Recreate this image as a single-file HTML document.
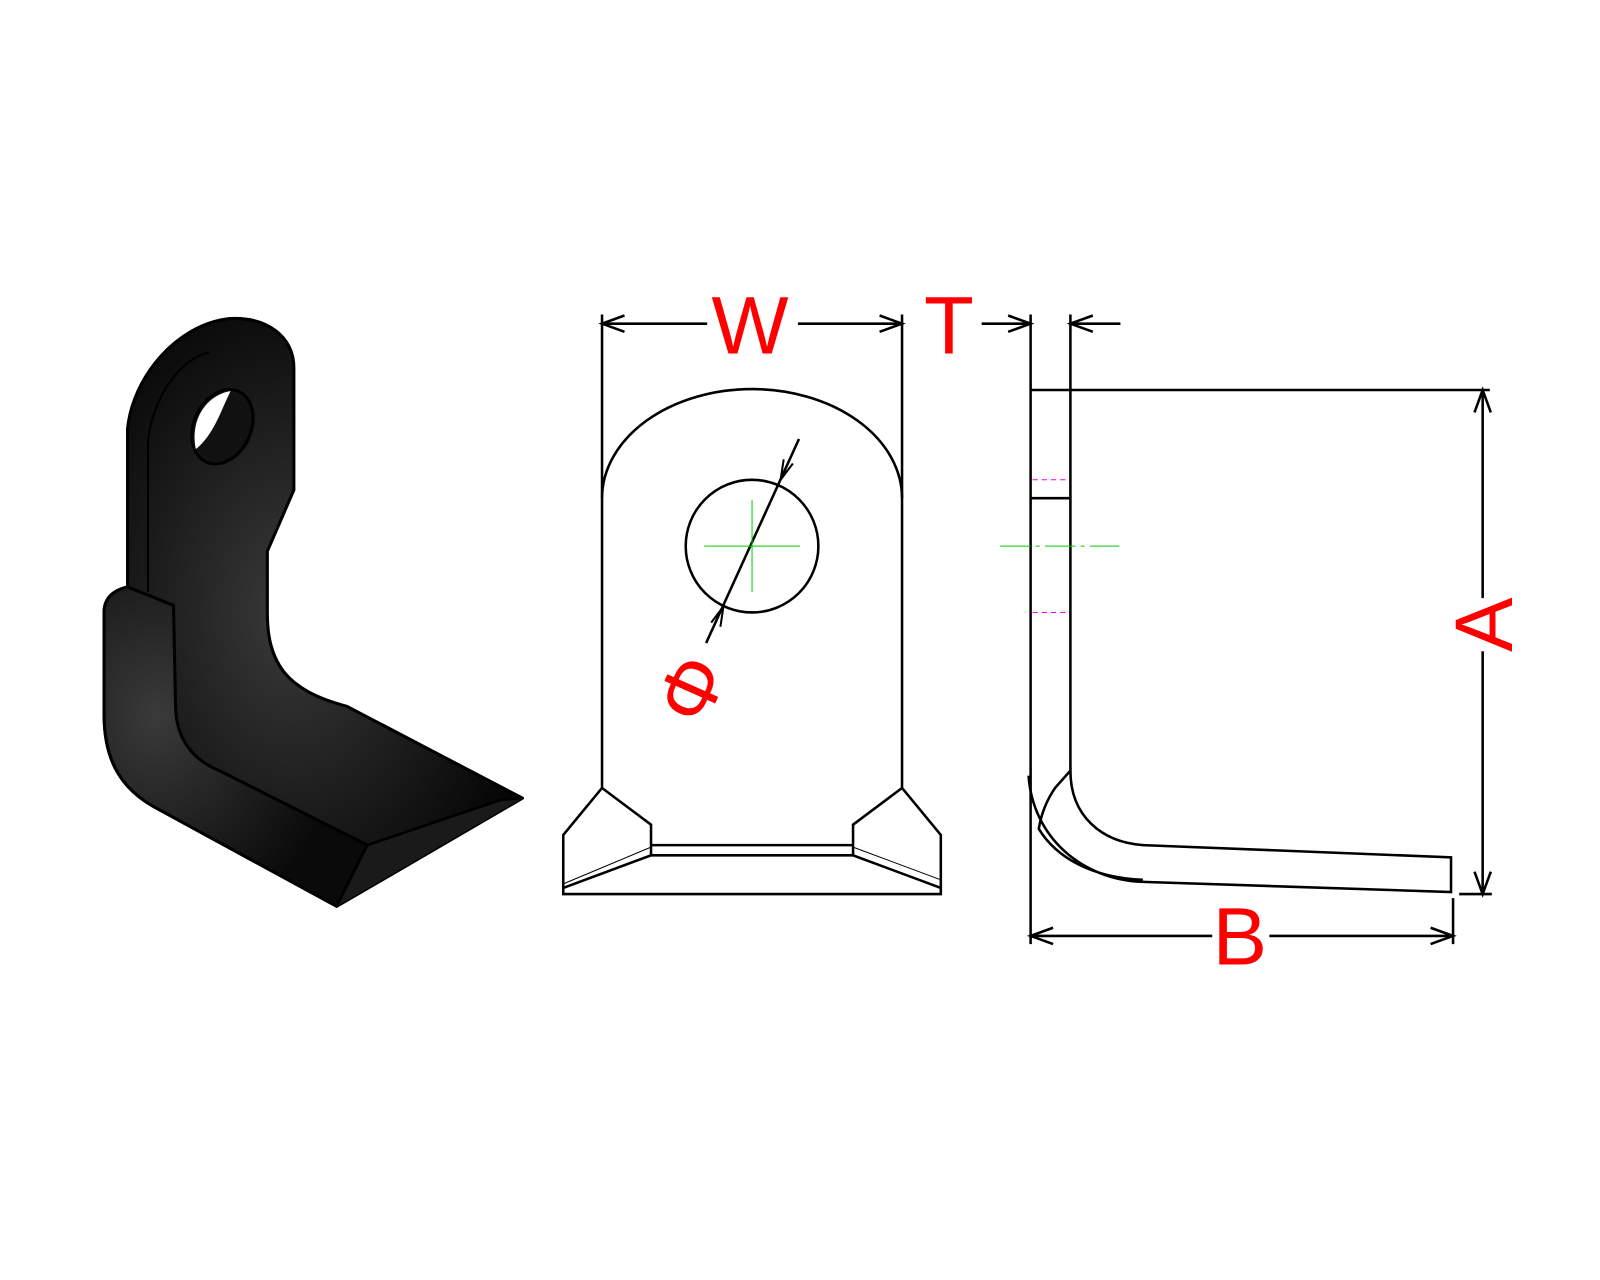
<!DOCTYPE html>
<html><head><meta charset="utf-8"><style>
html,body{margin:0;padding:0;background:#fff;width:1600px;height:1280px;overflow:hidden}
svg{display:block}
text{font-family:"Liberation Sans",sans-serif;fill:#f00}
</style></head><body>
<svg width="1600" height="1280" viewBox="0 0 1568 1254" xmlns="http://www.w3.org/2000/svg">
<defs>
<radialGradient id="g" cx="0.45" cy="0.5" r="0.6">
<stop offset="0" stop-color="#3a3a3a"/><stop offset="1" stop-color="#050505"/>
</radialGradient>
<radialGradient id="g2" cx="0.2" cy="0.4" r="0.7">
<stop offset="0" stop-color="#3a3a3a"/><stop offset="1" stop-color="#0a0a0a"/>
</radialGradient>
</defs>
<!-- 3D part -->
<g stroke="#000" stroke-width="3" stroke-linejoin="round">
<path d="M125,420 C130,370 172,318 225,312 C262,310 288,330 288,360 L288,480 L262,540 L262,600 C262,650 280,676 340,692 L512,782 L330,888 L150,790 C115,770 102,740 102,700 L102,600 C102,585 112,578 125,575 Z" fill="url(#g)"/>
<path d="M102,600 C102,585 112,578 125,575 L170,593 L172,690 C172,725 190,745 215,755 L360,828 L330,888 L150,790 C115,770 102,740 102,700 Z" fill="url(#g2)" stroke-width="3"/>
<path d="M330,888 L360,828 L490,784 L512,782" fill="#1a1a1a" stroke-width="2.5"/>
<path d="M145,580 L145,432 C150,390 175,352 205,345" fill="none" stroke-width="2"/>
<path d="M262,540 L262,600 C262,650 285,680 340,692" fill="none" stroke-width="2"/>
<ellipse cx="218" cy="418" rx="28" ry="38" transform="rotate(25 218 418)" fill="#111"/>
<path d="M192,440 C186,410 203,387 226,383 C216,403 210,425 192,440 Z" fill="#fff" stroke="none"/>
</g>
<!-- front view -->
<g stroke="#000" stroke-width="2.5" fill="none">
<line x1="590" y1="308" x2="590" y2="488"/><line x1="884" y1="308" x2="884" y2="488"/>
<line x1="590" y1="317" x2="693" y2="317"/><line x1="782" y1="317" x2="884" y2="317"/>
<path d="M612,309 L590,317 L612,325 M862,309 L884,317 L862,325"/>
<path d="M590,772 L590,488 A147,107 0 0 1 884,488 L884,772 L922,818 L922,876 L552,876 L552,818 Z"/>
<path d="M590,772 L638,808 L638,838 L552,870 M638,828 L836,828 M638,838 L836,838 M884,772 L836,808 L836,838 L922,870"/>
<path d="M552,866 L638,830 M836,830 L922,862" stroke-width="1"/>
<circle cx="737" cy="535" r="65"/>
<line x1="783" y1="430" x2="692" y2="630"/>
<path d="M765,470 L768,450 M765,470 L777,454 M709,594 L706,614 M709,594 L697,610" stroke-width="2"/>
</g>
<g stroke="#0c0" stroke-width="1"><line x1="690" y1="535" x2="784" y2="535"/><line x1="737" y1="490" x2="737" y2="580"/></g>
<text x="735" y="346" font-size="80" text-anchor="middle">W</text>
<text x="680" y="700" font-size="78" text-anchor="middle" transform="rotate(-66 680 676)">Φ</text>
<!-- side view -->
<g stroke="#000" stroke-width="2.5" fill="none">
<line x1="1010" y1="308" x2="1010" y2="382"/><line x1="1049" y1="308" x2="1049" y2="382"/>
<line x1="962" y1="317" x2="1010" y2="317"/><line x1="1049" y1="317" x2="1098" y2="317"/>
<path d="M988,309 L1010,317 L988,325 M1071,309 L1049,317 L1071,325"/>
<path d="M1010,382 L1049,382 M1010,488 L1049,488 M1049,382 L1049,755 M1049,382 L1460,382"/>
<path d="M1010,382 L1010,925"/>
<path d="M1008,760 C1012,820 1060,862 1120,864 L1422,874 L1422,840 L1120,828 C1080,825 1049,800 1049,755 L1034,772 C1025,785 1020,800 1018,812 C1035,840 1070,860 1120,862"/>
<path d="M1424,880 L1424,925 M1430,876 L1462,876"/>
<line x1="1453" y1="382" x2="1453" y2="586"/><line x1="1453" y1="638" x2="1453" y2="876"/>
<path d="M1445,404 L1453,382 L1461,404 M1445,854 L1453,876 L1461,854"/>
<line x1="1010" y1="917" x2="1188" y2="917"/><line x1="1244" y1="917" x2="1424" y2="917"/>
<path d="M1032,909 L1010,917 L1032,925 M1402,909 L1424,917 L1402,925"/>
</g>
<g stroke="#e0e" stroke-width="1" stroke-dasharray="5,4"><line x1="1012" y1="470" x2="1048" y2="470"/><line x1="1012" y1="600" x2="1048" y2="600"/></g>
<line x1="980" y1="535" x2="1097" y2="535" stroke="#0c0" stroke-width="1" stroke-dasharray="30,5,4,5"/>
<text x="930" y="346" font-size="80" text-anchor="middle">T</text>
<text x="1215" y="945" font-size="80" text-anchor="middle">B</text>
<text x="1482" y="612" font-size="80" text-anchor="middle" transform="rotate(-90 1482 612)">A</text>
</svg>
</body></html>
